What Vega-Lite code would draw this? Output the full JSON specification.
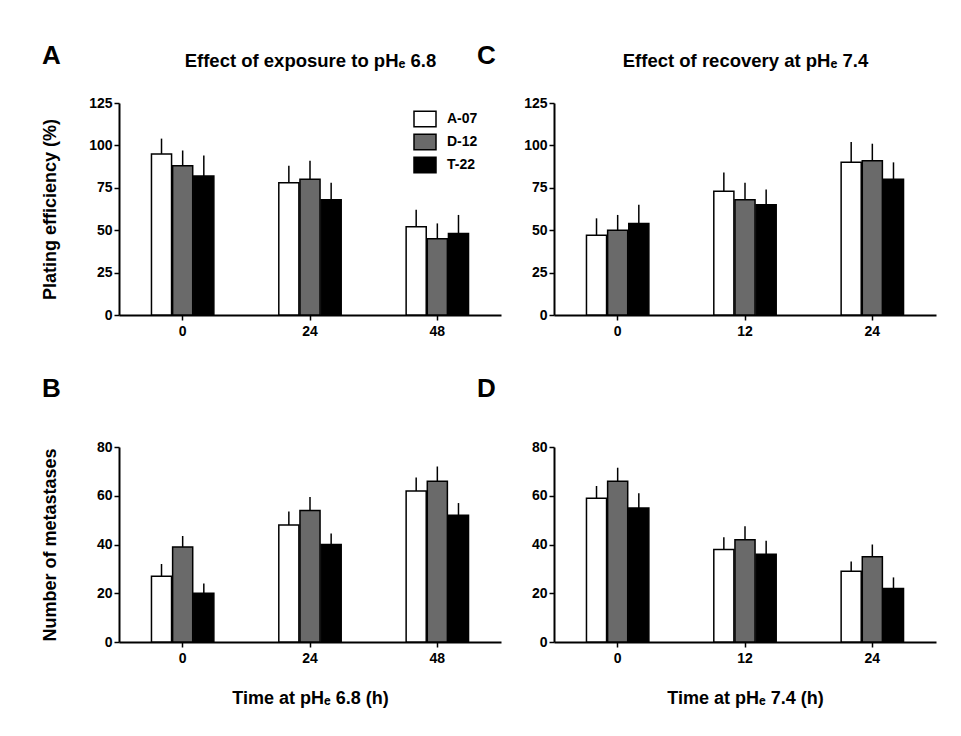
{
  "$schema": "https://vega.github.io/schema/vega-lite/v6.json",
  "background": "white",
  "padding": {"left": 41, "top": 43, "right": 10, "bottom": 10},
  "config": {
    "font": "Liberation Sans",
    "view": {"stroke": null},
    "axis": {
      "domainColor": "black", "domainWidth": 2,
      "tickColor": "black", "tickWidth": 1.5, "tickSize": 5,
      "labelFont": "Liberation Sans", "labelFontWeight": "bold", "labelFontSize": 14, "labelColor": "black",
      "titleFont": "Liberation Sans", "titleFontWeight": "bold", "titleFontSize": 18, "titleColor": "black",
      "grid": false
    },
    "title": {"font": "Liberation Sans", "fontWeight": "bold", "fontSize": 26, "color": "black", "anchor": "start", "frame": "group"},
    "legend": {"labelFont": "Liberation Sans", "labelFontWeight": "bold", "labelFontSize": 14, "labelColor": "black"}
  },
  "datasets": {
    "d": [
      {"panel": "A", "t": "0", "s": "A-07", "v": 95, "hi": 104},
      {"panel": "A", "t": "0", "s": "D-12", "v": 88, "hi": 97},
      {"panel": "A", "t": "0", "s": "T-22", "v": 82, "hi": 94},
      {"panel": "A", "t": "24", "s": "A-07", "v": 78, "hi": 88},
      {"panel": "A", "t": "24", "s": "D-12", "v": 80, "hi": 91},
      {"panel": "A", "t": "24", "s": "T-22", "v": 68, "hi": 78},
      {"panel": "A", "t": "48", "s": "A-07", "v": 52, "hi": 62},
      {"panel": "A", "t": "48", "s": "D-12", "v": 45, "hi": 54},
      {"panel": "A", "t": "48", "s": "T-22", "v": 48, "hi": 59},
      {"panel": "C", "t": "0", "s": "A-07", "v": 47, "hi": 57},
      {"panel": "C", "t": "0", "s": "D-12", "v": 50, "hi": 59},
      {"panel": "C", "t": "0", "s": "T-22", "v": 54, "hi": 65},
      {"panel": "C", "t": "12", "s": "A-07", "v": 73, "hi": 84},
      {"panel": "C", "t": "12", "s": "D-12", "v": 68, "hi": 78},
      {"panel": "C", "t": "12", "s": "T-22", "v": 65, "hi": 74},
      {"panel": "C", "t": "24", "s": "A-07", "v": 90, "hi": 102},
      {"panel": "C", "t": "24", "s": "D-12", "v": 91, "hi": 101},
      {"panel": "C", "t": "24", "s": "T-22", "v": 80, "hi": 90},
      {"panel": "B", "t": "0", "s": "A-07", "v": 27, "hi": 32},
      {"panel": "B", "t": "0", "s": "D-12", "v": 39, "hi": 43.5},
      {"panel": "B", "t": "0", "s": "T-22", "v": 20, "hi": 24},
      {"panel": "B", "t": "24", "s": "A-07", "v": 48, "hi": 53.5},
      {"panel": "B", "t": "24", "s": "D-12", "v": 54, "hi": 59.5},
      {"panel": "B", "t": "24", "s": "T-22", "v": 40, "hi": 44.5},
      {"panel": "B", "t": "48", "s": "A-07", "v": 62, "hi": 67.5},
      {"panel": "B", "t": "48", "s": "D-12", "v": 66, "hi": 72},
      {"panel": "B", "t": "48", "s": "T-22", "v": 52, "hi": 57},
      {"panel": "D", "t": "0", "s": "A-07", "v": 59, "hi": 64},
      {"panel": "D", "t": "0", "s": "D-12", "v": 66, "hi": 71.5},
      {"panel": "D", "t": "0", "s": "T-22", "v": 55, "hi": 61},
      {"panel": "D", "t": "12", "s": "A-07", "v": 38, "hi": 43},
      {"panel": "D", "t": "12", "s": "D-12", "v": 42, "hi": 47.5},
      {"panel": "D", "t": "12", "s": "T-22", "v": 36, "hi": 41.5},
      {"panel": "D", "t": "24", "s": "A-07", "v": 29, "hi": 33},
      {"panel": "D", "t": "24", "s": "D-12", "v": 35, "hi": 40},
      {"panel": "D", "t": "24", "s": "T-22", "v": 22, "hi": 26.5}
    ]
  },
  "data": {"name": "d"},
  "bounds": "flush",
  "columns": 2,
  "spacing": {"row": 132, "column": 53},
  "resolve": {"scale": {"fill": "independent"}, "legend": {"fill": "independent"}},
  "concat": [
    {
      "width": 382, "height": 212,
      "title": {"text": "A", "dx": -77, "dy": 22},
      "transform": [{"filter": "datum.panel === 'A'"}],
      "resolve": {"axis": {"x": "independent"}},
      "layer": [
        {
          "mark": {"type": "bar", "stroke": "black", "strokeWidth": 1.5},
          "encoding": {
            "x": {"field": "t", "type": "nominal", "sort": ["0", "24", "48"], "scale": {"paddingInner": 0.51, "paddingOuter": 0.255},
                  "axis": {"labelAngle": 0, "title": null, "labelPadding": 4}},
            "xOffset": {"field": "s", "type": "nominal", "scale": {"paddingInner": 0.05}},
            "y": {"field": "v", "type": "quantitative", "scale": {"domain": [0, 125], "nice": false},
                  "axis": {"values": [0, 25, 50, 75, 100, 125], "title": "Plating efficiency (%)", "titlePadding": 29}},
            "fill": {"field": "s", "type": "nominal", "scale": {"domain": ["A-07", "D-12", "T-22"], "range": ["white", "#6a6a6a", "black"]},
                     "legend": {"title": null, "orient": "none", "legendX": 294, "legendY": 4, "symbolType": "M-1,-0.7L1,-0.7L1,0.7L-1,0.7Z", "symbolSize": 484, "symbolStrokeColor": "black", "symbolStrokeWidth": 1.5, "rowPadding": 0, "labelOffset": 10}}
          }
        },
        {
          "mark": {"type": "rule", "color": "black", "strokeWidth": 1.5},
          "encoding": {
            "x": {"field": "t", "type": "nominal", "sort": ["0", "24", "48"],
                  "axis": {"orient": "top", "title": "Effect of exposure to pHₑ 6.8", "labels": false, "ticks": false, "domain": false, "titlePadding": 33, "titleFontSize": 18.5}},
            "xOffset": {"field": "s", "type": "nominal"},
            "y": {"field": "v", "type": "quantitative"},
            "y2": {"field": "hi"}
          }
        }
      ]
    },
    {
      "width": 382, "height": 212,
      "title": {"text": "C", "dx": -77, "dy": 22},
      "transform": [{"filter": "datum.panel === 'C'"}],
      "resolve": {"axis": {"x": "independent"}},
      "layer": [
        {
          "mark": {"type": "bar", "stroke": "black", "strokeWidth": 1.5},
          "encoding": {
            "x": {"field": "t", "type": "nominal", "sort": ["0", "12", "24"], "scale": {"paddingInner": 0.51, "paddingOuter": 0.255},
                  "axis": {"labelAngle": 0, "title": null, "labelPadding": 4}},
            "xOffset": {"field": "s", "type": "nominal", "scale": {"paddingInner": 0.05}},
            "y": {"field": "v", "type": "quantitative", "scale": {"domain": [0, 125], "nice": false},
                  "axis": {"values": [0, 25, 50, 75, 100, 125], "title": null}},
            "fill": {"field": "s", "type": "nominal", "scale": {"domain": ["A-07", "D-12", "T-22"], "range": ["white", "#6a6a6a", "black"]}, "legend": null}
          }
        },
        {
          "mark": {"type": "rule", "color": "black", "strokeWidth": 1.5},
          "encoding": {
            "x": {"field": "t", "type": "nominal", "sort": ["0", "12", "24"],
                  "axis": {"orient": "top", "title": "Effect of recovery at pHₑ 7.4", "labels": false, "ticks": false, "domain": false, "titlePadding": 33, "titleFontSize": 18.5}},
            "xOffset": {"field": "s", "type": "nominal"},
            "y": {"field": "v", "type": "quantitative"},
            "y2": {"field": "hi"}
          }
        }
      ]
    },
    {
      "width": 382, "height": 195,
      "title": {"text": "B", "dx": -77, "offset": 38},
      "transform": [{"filter": "datum.panel === 'B'"}],
      "layer": [
        {
          "mark": {"type": "bar", "stroke": "black", "strokeWidth": 1.5},
          "encoding": {
            "x": {"field": "t", "type": "nominal", "sort": ["0", "24", "48"], "scale": {"paddingInner": 0.51, "paddingOuter": 0.255},
                  "axis": {"labelAngle": 0, "title": "Time at pHₑ 6.8 (h)", "labelPadding": 4, "titlePadding": 24}},
            "xOffset": {"field": "s", "type": "nominal", "scale": {"paddingInner": 0.05}},
            "y": {"field": "v", "type": "quantitative", "scale": {"domain": [0, 80], "nice": false},
                  "axis": {"values": [0, 20, 40, 60, 80], "title": "Number of metastases", "titlePadding": 37}},
            "fill": {"field": "s", "type": "nominal", "scale": {"domain": ["A-07", "D-12", "T-22"], "range": ["white", "#6a6a6a", "black"]}, "legend": null}
          }
        },
        {
          "mark": {"type": "rule", "color": "black", "strokeWidth": 1.5},
          "encoding": {
            "x": {"field": "t", "type": "nominal", "sort": ["0", "24", "48"]},
            "xOffset": {"field": "s", "type": "nominal"},
            "y": {"field": "v", "type": "quantitative"},
            "y2": {"field": "hi"}
          }
        }
      ]
    },
    {
      "width": 382, "height": 195,
      "title": {"text": "D", "dx": -77, "offset": 38},
      "transform": [{"filter": "datum.panel === 'D'"}],
      "layer": [
        {
          "mark": {"type": "bar", "stroke": "black", "strokeWidth": 1.5},
          "encoding": {
            "x": {"field": "t", "type": "nominal", "sort": ["0", "12", "24"], "scale": {"paddingInner": 0.51, "paddingOuter": 0.255},
                  "axis": {"labelAngle": 0, "title": "Time at pHₑ 7.4 (h)", "labelPadding": 4, "titlePadding": 24}},
            "xOffset": {"field": "s", "type": "nominal", "scale": {"paddingInner": 0.05}},
            "y": {"field": "v", "type": "quantitative", "scale": {"domain": [0, 80], "nice": false},
                  "axis": {"values": [0, 20, 40, 60, 80], "title": null}},
            "fill": {"field": "s", "type": "nominal", "scale": {"domain": ["A-07", "D-12", "T-22"], "range": ["white", "#6a6a6a", "black"]}, "legend": null}
          }
        },
        {
          "mark": {"type": "rule", "color": "black", "strokeWidth": 1.5},
          "encoding": {
            "x": {"field": "t", "type": "nominal", "sort": ["0", "12", "24"]},
            "xOffset": {"field": "s", "type": "nominal"},
            "y": {"field": "v", "type": "quantitative"},
            "y2": {"field": "hi"}
          }
        }
      ]
    }
  ]
}
